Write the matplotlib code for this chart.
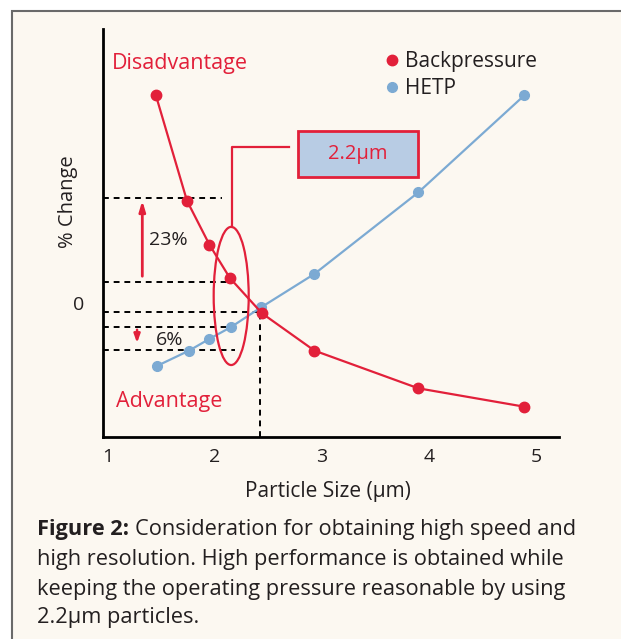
import matplotlib.pyplot as plt
from matplotlib.patches import Ellipse, Rectangle

plt.rcParams['font.family'] = ['Open Sans', 'DejaVu Sans']

# dados (tamanho de partícula em µm, variação em %)
bp_x = [1.45, 1.74, 1.95, 2.14, 2.44, 2.93, 3.90, 4.89]
bp_y = [60.0, 30.8, 18.6, 9.4, -0.4, -10.75, -21.2, -26.3]
hetp_x = [1.46, 1.76, 1.95, 2.15, 2.43, 2.93, 3.90, 4.89]
hetp_y = [-15.0, -10.75, -7.5, -4.25, 1.2, 10.5, 33.1, 60.0]

# linhas de referência (nível em %, até onde vai a linha em x)
ref_levels = [31.6, 8.3, 0.0, -4.2, -10.6]
ref_ends = [2.07, 2.11, 2.42, 2.12, 2.19]
cross_x = 2.42
xticks = [1, 2, 3, 4, 5]

RED = '#E2203A'
BLUE = '#7CAAD3'
DARK = '#231F20'
BG = '#FCF8F1'
W, H = 621, 639

fig = plt.figure(figsize=(W / 100, H / 100), dpi=100)
fig.patch.set_facecolor('white')


def fx(x):
    return x / W


def fy(y):
    return 1 - y / H


# moldura cinza com fundo creme
fig.patches.append(Rectangle((fx(12), -0.1), 1.2, fy(11) + 0.1, transform=fig.transFigure,
                             facecolor=BG, edgecolor='#6a6a6a', lw=1.5, zorder=-5))

ax = fig.add_axes([fx(103), fy(437), fx(559) - fx(103), fy(29) - fy(437)])
ax.set_zorder(2)
ax.set_facecolor('none')
ax.set_xlim(0.956, 5.214)
ax.set_ylim(-34.7, 78.4)
for s in ['top', 'right']:
    ax.spines[s].set_visible(False)
for s in ['left', 'bottom']:
    ax.spines[s].set_linewidth(2)
    ax.spines[s].set_color('black')
ax.set_xticks(xticks)
ax.set_xticklabels([str(t) for t in xticks], fontsize=14, color=DARK)
ax.tick_params(axis='x', length=0, pad=8)
ax.set_yticks([])

# linhas tracejadas
for lev, xe in zip(ref_levels, ref_ends):
    ax.plot([0.956, xe], [lev, lev], color='black', lw=1.4, ls=(0, (3, 2.5)), zorder=2)
ax.plot([cross_x, cross_x], [-34.7, 0], color='black', lw=1.4, ls=(0, (3, 2.5)), zorder=2)

ax.plot(hetp_x, hetp_y, color=BLUE, lw=1.6, marker='o', ms=7, zorder=3)
ax.plot(bp_x, bp_y, color=RED, lw=1.6, marker='o', ms=7.5, zorder=4)

# setas 23% e 6%
ax.annotate('', xy=(1.323, ref_levels[0]), xytext=(1.323, 9.1),
            arrowprops=dict(arrowstyle='-|>,head_length=0.6,head_width=0.18', color=RED, lw=2))
ax.annotate('', xy=(1.274, -9.4), xytext=(1.274, ref_levels[3]),
            arrowprops=dict(arrowstyle='-|>,head_length=0.5,head_width=0.18', color=RED, lw=1.8))
ax.text(1.565, 19.8, '23%', fontsize=14, color=DARK, ha='center', va='center')
ax.text(1.58, -7.9, '6%', fontsize=14, color=DARK, ha='center', va='center')

# elipse e caixa do 2.2µm
ax.add_patch(Ellipse((2.153, 4.4), 0.327, 38.3, fill=False, edgecolor=RED, lw=1.6, zorder=5))
ax.plot([2.158, 2.158, 2.693], [23.6, 45.6, 45.6], color=RED, lw=1.6, zorder=5)
ax.add_patch(Rectangle((2.778, 37.4), 1.121, 12.6, facecolor='#B8CCE4', edgecolor=RED,
                       lw=2, zorder=5, clip_on=False))
ax.text(3.339, 43.7, '2.2µm', fontsize=14.5, color=RED, ha='center', va='center', zorder=6)

fig.text(fx(112), fy(63), 'Disadvantage', fontsize=15.5, color=RED, ha='left', va='center')
fig.text(fx(116), fy(401), 'Advantage', fontsize=15.5, color=RED, ha='left', va='center')

# legenda
fig.lines.append(plt.Line2D([fx(392)], [fy(60)], marker='o', ms=7.5, color=RED,
                            transform=fig.transFigure))
fig.lines.append(plt.Line2D([fx(392)], [fy(87)], marker='o', ms=7, color=BLUE,
                            transform=fig.transFigure))
fig.text(fx(405), fy(62), 'Backpressure', fontsize=15, color=DARK, ha='left', va='center')
fig.text(fx(405), fy(88), 'HETP', fontsize=15, color=DARK, ha='left', va='center')

fig.text(fx(68), fy(202), '% Change', fontsize=14.5, color=DARK, rotation=90,
         ha='center', va='center')
fig.text(fx(79), fy(305), '0', fontsize=14, color=DARK, ha='center', va='center')
fig.text(fx(328), fy(491), 'Particle Size (µm)', fontsize=15, color=DARK,
         ha='center', va='center')

# legenda da figura
cap_lines = ['Consideration for obtaining high speed and',
             'high resolution. High performance is obtained while',
             'keeping the operating pressure reasonable by using',
             '2.2µm particles.']
cap_y = [530, 560, 589, 618]
t = fig.text(fx(37), fy(cap_y[0]), 'Figure 2:', fontsize=15.7, fontweight='bold',
             color=DARK, ha='left', va='center')
r = fig.canvas.get_renderer()
bb = t.get_window_extent(r)
fig.text(bb.x1 / W + fx(6), fy(cap_y[0]), cap_lines[0], fontsize=15.7, color=DARK,
         ha='left', va='center')
for line, y in zip(cap_lines[1:], cap_y[1:]):
    fig.text(fx(37), fy(y), line, fontsize=15.7, color=DARK, ha='left', va='center')

fig.savefig('out.png', dpi=100, facecolor=fig.get_facecolor())
